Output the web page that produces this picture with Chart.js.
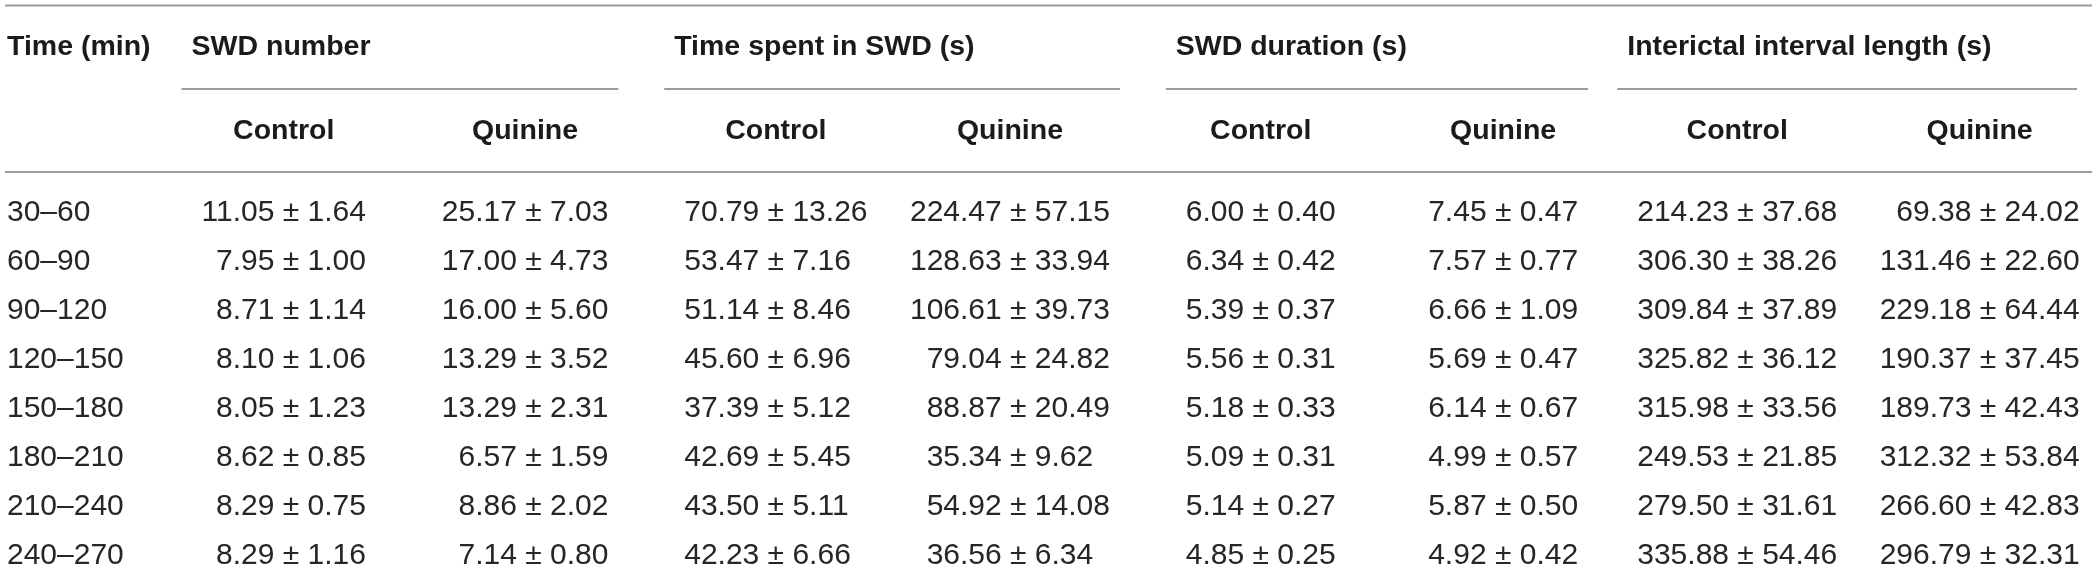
<!DOCTYPE html>
<html>
<head>
<meta charset="utf-8">
<script src="https://cdn.jsdelivr.net/npm/chart.js@4/dist/chart.umd.min.js"></script>
<style>
html,body{margin:0;padding:0;background:#fff;}
#wrap{width:2096px;height:581px;}
</style>
</head>
<body>
<div id="wrap"><canvas id="c" width="2096" height="581"></canvas></div>
<script>
// ---------- data ----------
const timeHeader = 'Time (min)';
const timeLabels = ['30–60','60–90','90–120','120–150','150–180','180–210','210–240','240–270'];
const groupTitles = ['SWD number','Time spent in SWD (s)','SWD duration (s)','Interictal interval length (s)'];
const subTitles = ['Control','Quinine'];

const swdNumberControlMean = [11.05, 7.95, 8.71, 8.10, 8.05, 8.62, 8.29, 8.29];
const swdNumberControlSem  = [1.64, 1.00, 1.14, 1.06, 1.23, 0.85, 0.75, 1.16];
const swdNumberQuinineMean = [25.17, 17.00, 16.00, 13.29, 13.29, 6.57, 8.86, 7.14];
const swdNumberQuinineSem  = [7.03, 4.73, 5.60, 3.52, 2.31, 1.59, 2.02, 0.80];

const timeInSwdControlMean = [70.79, 53.47, 51.14, 45.60, 37.39, 42.69, 43.50, 42.23];
const timeInSwdControlSem  = [13.26, 7.16, 8.46, 6.96, 5.12, 5.45, 5.11, 6.66];
const timeInSwdQuinineMean = [224.47, 128.63, 106.61, 79.04, 88.87, 35.34, 54.92, 36.56];
const timeInSwdQuinineSem  = [57.15, 33.94, 39.73, 24.82, 20.49, 9.62, 14.08, 6.34];

const swdDurationControlMean = [6.00, 6.34, 5.39, 5.56, 5.18, 5.09, 5.14, 4.85];
const swdDurationControlSem  = [0.40, 0.42, 0.37, 0.31, 0.33, 0.31, 0.27, 0.25];
const swdDurationQuinineMean = [7.45, 7.57, 6.66, 5.69, 6.14, 4.99, 5.87, 4.92];
const swdDurationQuinineSem  = [0.47, 0.77, 1.09, 0.47, 0.67, 0.57, 0.50, 0.42];

const intervalControlMean = [214.23, 306.30, 309.84, 325.82, 315.98, 249.53, 279.50, 335.88];
const intervalControlSem  = [37.68, 38.26, 37.89, 36.12, 33.56, 21.85, 31.61, 54.46];
const intervalQuinineMean = [69.38, 131.46, 229.18, 190.37, 189.73, 312.32, 266.60, 296.79];
const intervalQuinineSem  = [24.02, 22.60, 64.44, 37.45, 42.43, 53.84, 42.83, 32.31];

// ---------- columns built from the arrays ----------
const columns = [
  {key:'n-c', group:0, sub:0, mean:swdNumberControlMean,   sem:swdNumberControlSem},
  {key:'n-q', group:0, sub:1, mean:swdNumberQuinineMean,   sem:swdNumberQuinineSem},
  {key:'t-c', group:1, sub:0, mean:timeInSwdControlMean,   sem:timeInSwdControlSem},
  {key:'t-q', group:1, sub:1, mean:timeInSwdQuinineMean,   sem:timeInSwdQuinineSem},
  {key:'d-c', group:2, sub:0, mean:swdDurationControlMean, sem:swdDurationControlSem},
  {key:'d-q', group:2, sub:1, mean:swdDurationQuinineMean, sem:swdDurationQuinineSem},
  {key:'i-c', group:3, sub:0, mean:intervalControlMean,    sem:intervalControlSem},
  {key:'i-q', group:3, sub:1, mean:intervalQuinineMean,    sem:intervalQuinineSem}
];
const columnKeys = columns.map(c => c.key);

// ---------- style ----------
const FONT = '"Liberation Sans", Arial, Helvetica, sans-serif';
const style = {
  dataFont: '30px ' + FONT,
  headFont: 'bold 28.5px ' + FONT,
  dataColor: '#262626',
  headColor: '#1b1b1b',
  ruleColor: '#9c9c9c',
  ruleWidth: 2,
  ruleLeft: 5,
  ruleRightInset: 4,
  textLeft: 7,
  // vertical offsets above the first body row band (chart area top)
  topRule: 183,
  groupRow: 141.5,
  underline: 99.5,
  subRow: 57.5,
  bodyRule: 16.5
};

const tablePlugin = {
  id: 'tableText',
  afterDatasetsDraw(chart) {
    const ctx = chart.ctx;
    const area = chart.chartArea;
    const W = chart.width;
    const ys = chart.scales.y;
    ctx.save();
    // body cells
    ctx.font = style.dataFont;
    ctx.fillStyle = style.dataColor;
    ctx.textBaseline = 'middle';
    const pmW = ctx.measureText('±').width;
    const ext = [];
    chart.data.datasets.forEach((ds, d) => {
      const col = columns[d];
      const meta = chart.getDatasetMeta(d);
      let minL = Infinity, maxR = -Infinity;
      meta.data.forEach((el, i) => {
        const left = col.mean[i].toFixed(2) + ' ';
        const right = ' ' + col.sem[i].toFixed(2);
        const wl = ctx.measureText(left).width;
        const wr = ctx.measureText(right).width;
        ctx.textAlign = 'right';
        ctx.fillText(left, el.x - pmW / 2, el.y);
        ctx.textAlign = 'center';
        ctx.fillText('±', el.x, el.y);
        ctx.textAlign = 'left';
        ctx.fillText(right, el.x + pmW / 2, el.y);
        minL = Math.min(minL, el.x - pmW / 2 - wl);
        maxR = Math.max(maxR, el.x + pmW / 2 + wr);
      });
      ext.push({minL, maxR});
    });
    // time column
    ctx.textAlign = 'left';
    timeLabels.forEach((t, i) => {
      ctx.fillText(t, style.textLeft, ys.getPixelForValue(i));
    });
    // headers
    ctx.font = style.headFont;
    ctx.fillStyle = style.headColor;
    ctx.fillText(timeHeader, style.textLeft, area.top - style.groupRow);
    ctx.textAlign = 'center';
    columns.forEach((c, d) => {
      ctx.fillText(subTitles[c.sub], (ext[d].minL + ext[d].maxR) / 2, area.top - style.subRow);
    });
    // rules
    ctx.strokeStyle = style.ruleColor;
    ctx.lineWidth = style.ruleWidth;
    const rRight = W - style.ruleRightInset;
    const hline = (x0, x1, y) => { ctx.beginPath(); ctx.moveTo(x0, y); ctx.lineTo(x1, y); ctx.stroke(); };
    hline(style.ruleLeft, rRight, area.top - style.topRule);
    hline(style.ruleLeft, rRight, area.top - style.bodyRule);
    groupTitles.forEach((g, gi) => {
      const a = ext[gi * 2], b = ext[gi * 2 + 1];
      const x0 = a.minL - 20;
      const x1 = Math.min(b.maxR + 10, rRight - 15);
      hline(x0, x1, area.top - style.underline);
      ctx.textAlign = 'left';
      ctx.fillText(g, x0 + 10, area.top - style.groupRow);
    });
    ctx.restore();
  }
};

const datasets = columns.map(c => ({
  label: c.key,
  data: timeLabels.map(t => ({x: c.key, y: t})),
  pointRadius: 0,
  pointHoverRadius: 0,
  showLine: false
}));

new Chart(document.getElementById('c'), {
  type: 'scatter',
  data: { datasets },
  options: {
    responsive: false,
    maintainAspectRatio: false,
    devicePixelRatio: 1,
    animation: false,
    events: [],
    layout: { padding: { left: 291, right: 108, top: 188.5, bottom: 0.5 } },
    plugins: { legend: { display: false }, tooltip: { enabled: false } },
    scales: {
      x: { type: 'category', labels: columnKeys, offset: false, display: false },
      y: { type: 'category', labels: timeLabels, offset: true, display: false }
    }
  },
  plugins: [tablePlugin]
});
</script>
</body>
</html>
